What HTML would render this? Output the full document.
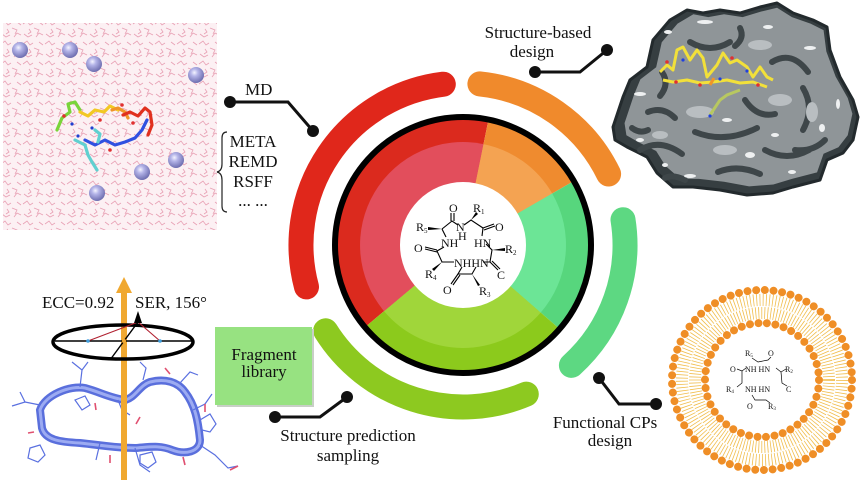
<!DOCTYPE html>
<html><head><meta charset="utf-8"><style>
html,body{margin:0;padding:0;background:#fff;}
svg{display:block;}
text{font-family:"Liberation Serif",serif;fill:#111;}
</style></head><body>
<svg width="862" height="492" viewBox="0 0 862 492" xmlns="http://www.w3.org/2000/svg">
<defs>
<pattern id="w" width="22" height="20" patternUnits="userSpaceOnUse">
<rect width="22" height="20" fill="#fcf0f3"/>
<path d="M1 4 l4 -3 l3 4 l3 -2 M12 8 l5 2 l-2 4 M2 14 l4 3 l4 -2 M14 17 l3 -4 l4 2 M17 2 l4 3 M7 9 l2 3 l-3 2" stroke="#e8a0b4" stroke-width="0.8" fill="none"/>
</pattern>
<radialGradient id="sp" cx="0.4" cy="0.35" r="0.65">
<stop offset="0" stop-color="#f4f4ff"/><stop offset="0.35" stop-color="#b4b4e8"/><stop offset="1" stop-color="#6e6eb0"/>
</radialGradient>
<path id="blob" d="M613,127 L623,97 L630,80 L647,67 L653,40 L670,20 L687,10 L703,13 L720,10 L740,13 L760,7 L777,3 L793,13 L813,20 L827,27 L830,50 L840,77 L853,100 L858,117 L853,140 L843,153 L827,160 L820,180 L793,187 L773,193 L747,195 L720,190 L693,187 L673,187 L657,173 L647,157 L627,147 L615,140 Z"/>
</defs>

<!-- MD panel -->
<rect x="3" y="23" width="214" height="207" fill="url(#w)"/>
<g fill="url(#sp)">
<circle cx="20" cy="50" r="8"/><circle cx="70" cy="50" r="8"/><circle cx="94" cy="64" r="8"/>
<circle cx="196" cy="75" r="8"/><circle cx="176" cy="160" r="8"/><circle cx="142" cy="172" r="8"/><circle cx="97" cy="193" r="8"/>
</g>
<g fill="none" stroke-width="3.2" stroke-linejoin="round" stroke-linecap="round">
<polyline points="57,130 62,118 70,112 68,104 75,102 80,110" stroke="#7ad43a"/>
<polyline points="80,112 88,116 95,110 104,112 110,106 118,110" stroke="#f2c824"/>
<polyline points="112,110 118,108 125,112 128,118" stroke="#f09428"/>
<polyline points="123,115 130,112 138,116 145,108 150,112 152,125 148,135" stroke="#e0301e"/>
<polyline points="85,140 95,145 105,140 115,145 125,142 135,138 142,130 147,120" stroke="#3050e0"/>
<polyline points="75,140 85,145 88,155 92,162 97,170" stroke="#60d0d0"/>
<polyline points="95,130 100,134 98,142" stroke="#60d0d0"/>
</g>
<g fill="#e03030"><circle cx="64" cy="116" r="1.8"/><circle cx="100" cy="120" r="1.8"/><circle cx="122" cy="105" r="1.8"/><circle cx="110" cy="150" r="1.8"/><circle cx="133" cy="123" r="1.8"/></g>
<g fill="#2040d0"><circle cx="72" cy="124" r="1.6"/><circle cx="92" cy="128" r="1.6"/><circle cx="78" cy="136" r="1.6"/></g>

<!-- MD label & connector -->
<text x="245" y="95" font-size="17">MD</text>
<g stroke="#111" stroke-width="3" fill="none"><polyline points="230,102 288,102 313,131"/></g>
<circle cx="230" cy="102" r="6" fill="#111"/><circle cx="313" cy="131" r="6" fill="#111"/>
<path d="M227 132 q-5 0 -5 6 v26 q0 7 -5 8 q5 1 5 8 v26 q0 6 5 6" stroke="#222" stroke-width="1.2" fill="none"/>
<g font-size="17" text-anchor="middle">
<text x="253" y="147">META</text><text x="253" y="167">REMD</text><text x="253" y="187">RSFF</text><text x="253" y="206">... ...</text>
</g>

<!-- Structure-based -->
<g font-size="17" text-anchor="middle"><text x="538" y="38">Structure-based</text><text x="532" y="57">design</text></g>
<polyline points="535,72 580,72 607,50" stroke="#111" stroke-width="3" fill="none"/>
<circle cx="535" cy="72" r="6" fill="#111"/><circle cx="607" cy="50" r="6" fill="#111"/>

<!-- Protein -->
<use href="#blob" fill="#363e41" stroke="#232a2d" stroke-width="3" stroke-linejoin="round"/>
<use href="#blob" fill="#8f9598" transform="translate(738,98) scale(0.93) translate(-735,-100)"/>
<g fill="none" stroke="#3e4649" stroke-width="6" stroke-linecap="round">
<path d="M640 150 q20 -12 42 4"/><path d="M695 132 q30 12 62 -4"/><path d="M765 150 q22 12 44 0"/>
<path d="M648 112 q15 -6 27 6"/><path d="M803 88 q12 20 0 42"/><path d="M690 42 q20 12 40 0"/>
<path d="M772 62 q20 -12 36 10"/><path d="M718 172 q20 -8 42 2"/><path d="M662 72 q8 12 -2 24"/>
<path d="M745 100 q12 18 30 14"/><path d="M825 140 q-12 12 -30 10"/><path d="M685 180 q-12 -6 -20 -2"/>
<path d="M740 28 q5 10 -5 18"/><path d="M632 128 q8 6 16 2"/>
</g>
<g fill="#b9bec1">
<ellipse cx="700" cy="112" rx="14" ry="6"/><ellipse cx="780" cy="100" rx="12" ry="6"/><ellipse cx="725" cy="150" rx="12" ry="5"/>
<ellipse cx="812" cy="112" rx="6" ry="10"/><ellipse cx="760" cy="45" rx="12" ry="5"/><ellipse cx="660" cy="135" rx="8" ry="4"/>
</g>
<g fill="#eef0f1">
<ellipse cx="705" cy="22" rx="8" ry="2"/><ellipse cx="668" cy="32" rx="4" ry="2"/><ellipse cx="640" cy="94" rx="6" ry="2"/>
<ellipse cx="810" cy="48" rx="6" ry="2"/><ellipse cx="690" cy="176" rx="6" ry="2"/><ellipse cx="750" cy="155" rx="5" ry="3"/>
<ellipse cx="792" cy="172" rx="4" ry="2"/><ellipse cx="640" cy="140" rx="4" ry="2"/><ellipse cx="822" cy="128" rx="3" ry="4"/>
<ellipse cx="768" cy="27" rx="5" ry="2"/><ellipse cx="838" cy="104" rx="2" ry="5"/><ellipse cx="727" cy="120" rx="5" ry="2"/>
<ellipse cx="775" cy="135" rx="4" ry="2"/><ellipse cx="665" cy="165" rx="3" ry="2"/>
</g>
<g fill="none" stroke="#f2e03a" stroke-width="3" stroke-linejoin="round">
<polyline points="660,72 667,65 673,70 677,50 683,47 690,60 697,50 703,58 707,77 717,65 723,53 730,63 737,60 747,67 753,77 760,67 767,77 773,80"/>
<polyline points="663,80 673,82 687,80 700,83 713,82 727,80 740,83 753,82 767,87"/>
</g>
<polyline points="710,115 720,100 727,95 740,90" stroke="#b8c860" stroke-width="3" fill="none"/>
<polyline points="710,85 714,78" stroke="#f09428" stroke-width="3"/>
<g fill="#e03030"><circle cx="667" cy="62" r="1.8"/><circle cx="700" cy="85" r="1.8"/><circle cx="732" cy="58" r="1.8"/><circle cx="758" cy="85" r="1.8"/><circle cx="676" cy="82" r="1.8"/></g>
<g fill="#2040e0"><circle cx="683" cy="60" r="1.6"/><circle cx="720" cy="79" r="1.6"/><circle cx="747" cy="71" r="1.6"/><circle cx="710" cy="116" r="1.6"/></g>

<!-- Outer arcs -->
<g fill="none" stroke-width="25" stroke-linecap="round">
<path d="M306.5,286.9 A162 162 0 0 1 443.3,84.2" stroke="#e0271b"/>
<path d="M479.9,83.9 A162 162 0 0 1 608.6,174.0" stroke="#f08a2c"/>
<path d="M623,219.7 A162 162 0 0 1 571.4,365.4" stroke="#5dd882"/>
<path d="M526.3,394.1 A162 162 0 0 1 325.6,330.8" stroke="#8dc920"/>
</g>

<!-- Disc -->
<path d="M463,245 L365.7,326.6 A127 127 0 0 1 488.3,120.6 Z" fill="#db2a1e"/>
<path d="M463,245 L488.3,120.6 A127 127 0 0 1 573,181.5 Z" fill="#ef8b2f"/>
<path d="M463,245 L573,181.5 A127 127 0 0 1 558.8,328.3 Z" fill="#57d67d"/>
<path d="M463,245 L558.8,328.3 A127 127 0 0 1 365.7,326.6 Z" fill="#8cca1c"/>
<path d="M463,245 L384.1,311.2 A103 103 0 0 1 483.5,144.1 Z" fill="#e24e5c"/>
<path d="M463,245 L483.5,144.1 A103 103 0 0 1 552.2,193.5 Z" fill="#f4a352"/>
<path d="M463,245 L552.2,193.5 A103 103 0 0 1 540.7,312.6 Z" fill="#6ce596"/>
<path d="M463,245 L540.7,312.6 A103 103 0 0 1 384.1,311.2 Z" fill="#a0d63a"/>
<circle cx="463" cy="245" r="63" fill="#fff"/>
<circle cx="463" cy="245" r="128" fill="none" stroke="#000" stroke-width="6"/>

<!-- Central molecule -->
<g stroke="#000" stroke-width="1.1" fill="none">
<polyline points="442,229 452,221 458,225"/>
<line x1="451" y1="221" x2="451" y2="213"/><line x1="454" y1="221" x2="454" y2="213"/>
<polyline points="464,225 471,220 483,228"/>
<line x1="483" y1="228" x2="494" y2="224"/><line x1="484" y1="230" x2="495" y2="226"/>
<line x1="483" y1="228" x2="482" y2="236"/>
<line x1="442" y1="229" x2="446" y2="237"/>
<polyline points="444,247 437,251 442,262 454,262"/>
<line x1="437" y1="250" x2="425" y2="247"/><line x1="437" y1="252" x2="425" y2="249"/>
<polyline points="486,244 492,250 490,262 483,262"/>
<line x1="490" y1="262" x2="498" y2="270"/><line x1="492" y1="261" x2="500" y2="269"/>
<polyline points="462,267 458,274 472,274 476,267"/>
<line x1="458" y1="274" x2="451" y2="284"/><line x1="460" y1="275" x2="453" y2="285"/>
</g>
<g fill="#000">
<polygon points="442,229 428,227 428,230"/><polygon points="471,220 476,212 478,214"/>
<polygon points="492,250 505,248 505,251"/><polygon points="442,262 432,269 434,271"/>
<polygon points="472,274 480,285 478,286"/>
</g>
<g font-size="12">
<text x="449" y="212">O</text><text x="473" y="212">R<tspan font-size="7" dy="2">1</tspan></text>
<text x="416" y="231">R<tspan font-size="7" dy="2">5</tspan></text>
<text x="456" y="231">N</text><text x="458" y="240">H</text>
<text x="495" y="231">O</text>
<text x="441" y="247">NH</text><text x="474" y="247">HN</text>
<text x="414" y="252">O</text><text x="505" y="253">R<tspan font-size="7" dy="2">2</tspan></text>
<text x="454" y="267">NHHN</text>
<text x="425" y="278">R<tspan font-size="7" dy="2">4</tspan></text>
<text x="497" y="279">C</text>
<text x="443" y="294">O</text><text x="479" y="295">R<tspan font-size="7" dy="2">3</tspan></text>
</g>

<!-- Fragment library -->
<rect x="217" y="329" width="97" height="78" fill="#c8cfc6"/>
<rect x="215" y="327" width="97" height="78" fill="#97e281"/>
<g font-size="17" text-anchor="middle"><text x="264" y="360">Fragment</text><text x="264" y="377">library</text></g>

<!-- Structure prediction -->
<polyline points="275,417 320,417 347,397" stroke="#111" stroke-width="3" fill="none"/>
<circle cx="275" cy="417" r="6" fill="#111"/><circle cx="347" cy="397" r="6" fill="#111"/>
<g font-size="17" text-anchor="middle"><text x="348" y="441">Structure prediction</text><text x="348" y="461">sampling</text></g>

<!-- Functional CPs -->
<polyline points="599,378 619,404 656,404" stroke="#111" stroke-width="3" fill="none"/>
<circle cx="599" cy="378" r="6" fill="#111"/><circle cx="656" cy="404" r="6" fill="#111"/>
<g font-size="17" text-anchor="middle"><text x="605" y="428">Functional CPs</text><text x="610" y="446">design</text></g>

<!-- Liposome -->
<circle cx="762" cy="380" r="80" fill="none" stroke="#f1bd4c" stroke-width="12" stroke-dasharray="0.8 2.4"/>
<circle cx="762" cy="380" r="67" fill="none" stroke="#f1bd4c" stroke-width="12" stroke-dasharray="0.8 2.2"/>
<circle cx="762" cy="380" r="90" fill="none" stroke="#ef8e26" stroke-width="8" stroke-linecap="round" stroke-dasharray="0.01 8.7"/>
<circle cx="762" cy="380" r="57" fill="none" stroke="#ef8e26" stroke-width="8" stroke-linecap="round" stroke-dasharray="0.01 8.53"/>
<g font-size="8">
<text x="745" y="356">R<tspan font-size="5" dy="1">5</tspan></text><text x="768" y="356">O</text>
<text x="730" y="372">O</text><text x="745" y="372">NH HN</text><text x="785" y="372">R<tspan font-size="5" dy="1">2</tspan></text>
<text x="726" y="392">R<tspan font-size="5" dy="1">4</tspan></text><text x="745" y="392">NH HN</text><text x="786" y="392">C</text>
<text x="747" y="409">O</text><text x="768" y="409">R<tspan font-size="5" dy="1">3</tspan></text>
</g>
<g stroke="#000" stroke-width="0.7" fill="none">
<polyline points="752,358 758,362 768,360 771,357"/><polyline points="737,369 742,371 746,368"/>
<polyline points="776,368 781,372 786,369"/><polyline points="781,372 782,383 787,386"/>
<polyline points="742,371 742,383 737,387"/><polyline points="752,395 755,400 766,400 770,403"/>
</g>

<!-- Bottom-left: ECC / SER -->
<text x="42" y="308" font-size="17">ECC=0.92</text>
<text x="135" y="308" font-size="17">SER, 156°</text>
<path d="M40 410 C 45 395, 70 385, 85 388 C 100 392, 110 398, 125 400 C 135 398, 140 385, 150 382 C 165 378, 178 382, 185 392 C 195 405, 198 420, 200 440 C 200 452, 185 455, 172 450 C 160 445, 150 447, 135 448 C 115 448, 100 445, 80 443 C 60 442, 45 440, 42 428 Z" fill="none" stroke="#5a6fdc" stroke-width="8"/>
<path d="M40 410 C 45 395, 70 385, 85 388 C 100 392, 110 398, 125 400 C 135 398, 140 385, 150 382 C 165 378, 178 382, 185 392 C 195 405, 198 420, 200 440 C 200 452, 185 455, 172 450 C 160 445, 150 447, 135 448 C 115 448, 100 445, 80 443 C 60 442, 45 440, 42 428 Z" fill="none" stroke="#9cabf2" stroke-width="3"/>
<g stroke="#5a70e0" stroke-width="1.2" fill="none">
<polyline points="40,405 25,402 12,406"/><polyline points="25,402 20,392"/>
<polyline points="80,387 82,370 72,362"/><polyline points="82,370 88,362"/>
<polyline points="193,410 205,404 212,394"/><polyline points="200,445 215,455 228,468 238,466"/>
<polyline points="135,448 140,465 150,472"/><polyline points="100,443 96,460"/>
<polyline points="143,380 146,368 140,362"/><polyline points="180,383 190,372 198,375"/>
<polygon points="30,448 40,445 45,455 38,462 28,458"/><polygon points="200,420 210,414 216,424 210,432 202,430"/>
<polygon points="140,455 152,452 156,462 148,468 140,463"/><polygon points="75,400 85,396 90,405 82,410"/>
<polyline points="118,400 122,410 130,415"/>
</g>
<g stroke="#e05070" stroke-width="1.6">
<line x1="34" y1="432" x2="28" y2="433"/><line x1="95" y1="403" x2="96" y2="410"/><line x1="110" y1="455" x2="110" y2="463"/>
<line x1="183" y1="457" x2="185" y2="465"/><line x1="170" y1="374" x2="165" y2="368"/><line x1="205" y1="404" x2="205" y2="412"/>
<line x1="230" y1="470" x2="238" y2="466"/><line x1="140" y1="417" x2="136" y2="424"/>
</g>
<line x1="124" y1="480" x2="124" y2="290" stroke="#f0a830" stroke-width="6"/>
<polygon points="116,293 132,293 124,277" fill="#f0a830"/>
<ellipse cx="123" cy="342" rx="70" ry="17" fill="none" stroke="#000" stroke-width="3.5"/>
<line x1="55" y1="341" x2="192" y2="341" stroke="#000" stroke-width="1.4"/>
<polyline points="88,341 138,322 160,341" stroke="#b02030" stroke-width="1.1" fill="none"/>
<line x1="138" y1="322" x2="110" y2="360" stroke="#000" stroke-width="1.4"/>
<polygon points="134,323 142,323 138,311" fill="#000"/>
<circle cx="88" cy="341" r="1.8" fill="#40a0e0"/><circle cx="160" cy="341" r="1.8" fill="#40a0e0"/>
<circle cx="124" cy="341" r="2" fill="#f0a830"/>
</svg>
</body></html>
